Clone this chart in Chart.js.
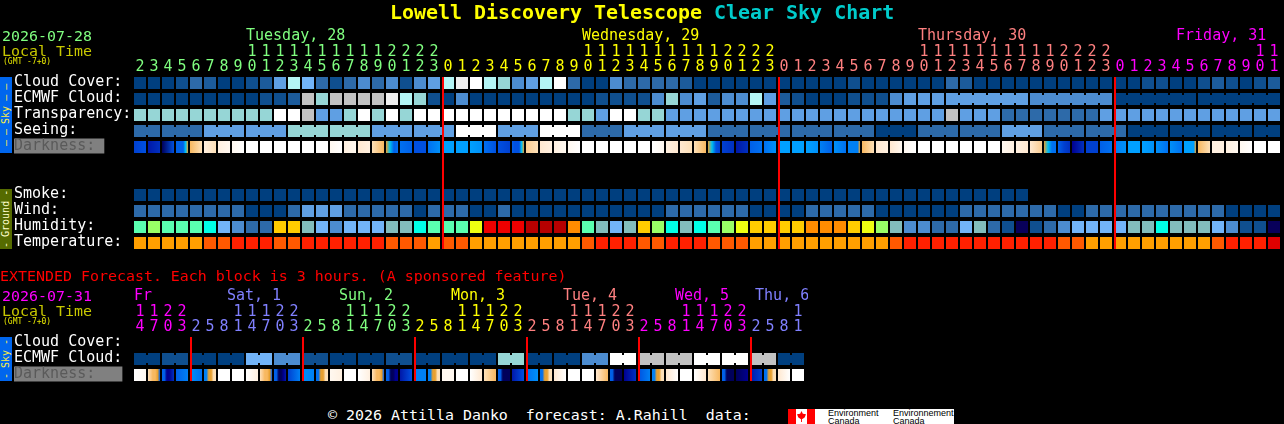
<!DOCTYPE html>
<html>
<head>
<meta charset="utf-8">
<title>Lowell Discovery Telescope Clear Sky Chart</title>
<script src="https://cdn.jsdelivr.net/npm/chart.js@4"></script>
<style>
html, body { margin: 0; padding: 0; background: #000; overflow: hidden; }
#page { position: relative; width: 1284px; height: 424px; background: #000; font-family: "DejaVu Sans Mono", monospace; font-size: 14.95px; }
#page canvas { position: absolute; left: 0; }
.t { position: absolute; white-space: pre; line-height: 16px; }
.side { position: absolute; left: 0; width: 12px; writing-mode: vertical-rl; transform: rotate(180deg); text-align: center; font-size: 10px; line-height: 12px; white-space: pre; word-spacing: -1px; }
</style>
</head>
<body>
<div id="page">
  <canvas id="main" width="1284" height="262" style="top:0"></canvas>
  <canvas id="ext" width="808" height="394" style="top:0"></canvas>

  <div class="t" style="left:390px;top:0;font-size:19.95px;line-height:24px;font-weight:bold;color:#ffff00">Lowell Discovery Telescope <span style="color:#00cccc">Clear Sky Chart</span></div>
  <div class="t" style="left:2px;top:28px;color:#80ff80">2026-07-28</div>
  <div class="t" style="left:2px;top:43px;color:#c8c800">Local Time</div>
  <div class="t" style="left:3px;top:54px;font-size:8px;color:#e8e800">(GMT -7+0)</div>
  <div class="t" style="left:0;top:268px;color:#ff0000">EXTENDED Forecast. Each block is 3 hours. (A sponsored feature)</div>
  <div class="t" style="left:2px;top:288px;color:#ff00ff">2026-07-31</div>
  <div class="t" style="left:2px;top:303px;color:#c8c800">Local Time</div>
  <div class="t" style="left:3px;top:314px;font-size:8px;color:#e8e800">(GMT -7+0)</div>

  <div class="side" style="top:77px;height:76px;background:#0066ee;color:#ffee44">— — Sky — —</div>
  <div class="side" style="top:189px;height:60px;background:#556b00;color:#ffffcc">- Ground -</div>
  <div class="side" style="top:337px;height:44px;background:#0066ee;color:#ffee44">- Sky -</div>

  <div class="t" style="left:328px;top:407px;color:#ffffff">© 2026 Attilla Danko  forecast: A.Rahill  data:</div>
  <div style="position:absolute;left:788px;top:409px;width:166px;height:15px;background:#fff;color:#000;font-size:9.5px;line-height:7.5px;overflow:hidden">
    <div style="position:absolute;left:0;top:0;width:8px;height:15px;background:#f00"></div>
    <div style="position:absolute;left:19px;top:0;width:8px;height:15px;background:#f00"></div>
    <div style="position:absolute;left:9px;top:2px;width:9px;height:11px;background:#f00;clip-path:polygon(50% 0,65% 25%,100% 30%,85% 60%,55% 75%,55% 100%,45% 100%,45% 75%,15% 60%,0 30%,35% 25%)"></div>
    <div class="t" style="left:40px;top:0;line-height:8px;font-size:9px;font-family:'Liberation Sans'">Environment<br>Canada</div>
    <div class="t" style="left:105px;top:0;line-height:8px;font-size:9px;font-family:'Liberation Sans'">Environnement<br>Canada</div>
  </div>
</div>

<script>
// top chart, one entry per hour block
const hours = [2,3,4,5,6,7,8,9,10,11,12,13,14,15,16,17,18,19,20,21,22,23,
  0,1,2,3,4,5,6,7,8,9,10,11,12,13,14,15,16,17,18,19,20,21,22,23,
  0,1,2,3,4,5,6,7,8,9,10,11,12,13,14,15,16,17,18,19,20,21,22,23,
  0,1,2,3,4,5,6,7,8,9,10,11];
const dayNames = ["Tuesday, 28","Wednesday, 29","Thursday, 30","Friday, 31"];
const dayCols = [8,32,56,74.43];
const dayEnds = [22,46,70,82];
const midnights = [22,46,70];

const cloudCover = [0,0,0,1,3,2,0,0,1,2,5,8,6,3,1,3,4,3,4,1,4,5,
  8,9,10,8,7,4,5,8,10,3,0,0,4,3,3,3,3,2,0,0,0,0,0,0,0,0,0,0,0,1,
  0,0,0,0,0,0,3,2,0,0,0,0,0,0,0,0,0,0,0,0,1,1,0,0,1,2,1,0,1,2];
const ecmwfCloud = [0,0,0,0,0,0,0,0,0,1,1,2,11,7,11,11,11,11,9,8,7,1,
  0,4,0,0,0,0,0,0,0,0,0,1,1,1,1,4,7,4,5,2,4,4,8,5,2,1,0,0,0,1,
  1,1,4,5,5,5,5,5,5,5,5,5,4,4,4,4,4,4,0,0,0,0,0,0,0,0,0,0,0,0];
const transparency = [7,7,7,7,7,7,7,7,7,7,10,10,11,5,5,7,10,7,10,7,10,10,
  10,10,10,10,10,10,10,10,10,7,7,5,10,10,7,7,5,5,5,5,5,5,5,5,5,5,5,5,5,5,
  5,5,5,5,5,5,11,5,5,5,3,3,3,3,3,3,3,5,5,5,5,5,5,5,5,5,5,5,5,5];
const seeing = [3,3,3,3,3,5,5,5,5,5,5,7,7,7,7,7,7,5,5,5,5,5,
  5,10,10,10,5,5,5,10,10,10,3,3,3,5,5,5,5,5,5,3,3,3,3,3,3,3,3,3,3,3,
  3,0,0,0,3,3,3,3,3,3,5,5,5,3,3,3,3,3,3,0,0,0,0,0,0,0,0,0,0,0];
const smoke = [0,0,0,0,0,0,0,0,0,0,0,0,0,0,0,0,0,0,0,0,0,0,
  0,0,0,0,0,0,0,0,0,0,0,0,0,0,0,0,0,0,0,0,0,0,0,0,0,0,0,0,0,0,
  0,0,0,0,0,0,0,0,0,0,0,0];
const wind = [3,3,3,3,3,3,3,3,0,0,0,3,5,5,5,3,3,3,3,3,0,3,
  3,3,0,0,3,0,0,0,0,0,0,0,0,0,0,0,3,3,3,3,3,3,0,0,0,0,3,3,3,3,
  3,0,0,0,0,0,0,3,3,3,3,3,3,3,0,0,3,3,3,3,3,3,3,3,3,3,0,0,0,0];
const humidity = [7,8,7,7,7,6,4,3,2,2,10,10,5,4,3,4,4,4,5,5,6,7,
  7,7,9,12,12,12,13,13,13,11,7,5,4,5,10,8,6,5,6,7,8,9,10,10,10,10,11,11,11,10,
  9,8,5,3,3,2,2,4,5,2,1,0,1,2,3,4,4,4,4,5,5,6,5,5,5,4,3,1,1,0];
const temperature = [0,0,0,0,0,1,1,2,2,2,1,1,2,2,2,2,2,2,1,1,1,0,
  1,1,0,0,0,0,0,0,0,0,1,2,2,2,1,1,2,2,2,1,1,1,0,0,0,0,0,0,0,0,
  0,0,1,2,2,2,2,2,2,2,2,2,2,2,1,1,0,0,0,0,0,0,0,0,0,1,2,2,2,3];
// light levels across each block, left to right
const darkness = [[4,5],[2,3],[0,5],[6,6,6,6,19,11],[12,14],[16,14],[16,17],[17,18],[18],[18],[18],[18],[18],[18],[17,18],[16,17],[15,16],[14,12],[11,19,6,7],[7,6],[5,5],[7,9],
  [10],[10],[10,9],[7,5],[5,4],[6,5,5,5,19,11],[13,14],[15,16],[16,17],[17,18],[18],[18],[18],[18],[18],[18,17],[16,15],[15,14],[14,12],[11,19,5,4],[4,3],[2,3],[6,7],[7,9],
  [10],[10],[10,9],[8,6],[9,7],[8,8,8,8,8,11],[12,14],[15,16],[15,17],[17,18],[18],[18],[18],[18],[18],[18],[17,16],[16,15],[15,13],[11,19,7,7],[6,4,3],[1,3],[4,4],[6,7],[8,9],[10],[10,9],[9,7],[9,7],[10,10,10,10,10,11],[12,14],[16,16],[16,17],[17,18],[18],[18]];

// extended chart, one entry per 3 hour block
const extHours = [14,17,20,23,2,5,8,11,14,17,20,23,2,5,8,11,14,17,20,23,2,5,8,11,
  14,17,20,23,2,5,8,11,14,17,20,23,2,5,8,11,14,17,20,23,2,5,8,11];
const extDayNames = ["Fr","Sat, 1","Sun, 2","Mon, 3","Tue, 4","Wed, 5","Thu, 6"];
const extDayCols = [0,6.64,14.64,22.64,30.64,38.64,44.36];
const extDayEnds = [4,12,20,28,36,44,48];
const extMidnights = [4,12,20,28,36,44];
const extCloud = [0,0,1,1,0,0,0,0,6,6,4,4,1,1,0,0,0,0,1,1,0,0,0,0,
  0,0,7,7,0,0,0,0,4,4,10,10,11,11,11,11,10,10,10,10,11,11,0,0];
const extDarkness = [[18,17],[14,13,12,12,11,6],[6,6,1,1,2,3],[6,8],[9,7],[8,8,11,11,14,14],[18],[18],[18,16],[14,13,12,12,11,6],[6,6,0,0,1,2],[4,8],
  [9,8],[7,7,11,11,14,14],[17,16],[18],[18,16],[14,13,12,12,11,6],[6,6,0,0,1,1],[2,5],[8],[8,8,11,11,14,14],[17],[18],
  [18,15],[14,12],[6,6,0,0,0,0],[2,5],[7,9],[7,7,11,11,14,14],[15,18],[18],[18],[15,12],[6,6,0,0,0,0],[1,3],
  [5,8],[8,8,11,11,14,14],[15,18],[18],[18,15],[14,12],[6,6,0,0,0,0],[0,1],[2,4],[7,7,11,11,14,14],[15,18],[18]];

// block groups that are joined by a narrow link
const seeingJoins = [[0,1],[2,4],[5,7],[8,10],[11,13],[14,16],[17,19],[20,22],[23,25],[26,28],[29,31],[32,34],[35,37],[38,40],
  [41,43],[44,46],[47,49],[50,52],[53,55],[56,58],[59,61],[62,64],[65,67],[68,70],[71,73],[74,76],[77,79],[80,81]];
const ecmwfJoins = [[58,63],[64,69],[70,75],[76,81]];
const extJoins = [[0,1],[2,3],[4,5],[6,7],[8,9],[10,11],[12,13],[14,15],[16,17],[18,19],[20,21],[22,23],
  [24,25],[26,27],[28,29],[30,31],[32,33],[34,35],[36,37],[38,39],[40,41],[42,43],[44,45],[46,47]];

const rowLabels = ["Cloud Cover:","ECMWF Cloud:","Transparency:","Seeing:","Darkness: "," ","  ","Smoke:","Wind:","Humidity:","Temperature:"];
const extRowLabels = ["Cloud Cover:","ECMWF Cloud:","Darkness:   "];

const skyColors = ["#003f7f","#0f4f8f","#1c5b9b","#2d6aa9","#4c8cd0","#5f9fe3","#72b4f8","#96d6d6","#b4f5f5","#efefef","#ffffff","#c2c2c2"];
const humidityColors = ["#08005a","#0f4f8f","#2d6aa9","#4c8cd0","#72b4f8","#82bdbd","#00ffe6","#5affb0","#99ff66","#eeff11","#ffcc00","#ff8c00","#ee0000","#b60000"];
const tempColors = ["#ff9f00","#ff5900","#ff2000","#e00000"];
const darkColors = ["#00005a","#000090","#0018a8","#0030c0","#0040d0","#0050e0","#0060e8","#0070f0","#0080f4","#0090f8","#00a0ff",
  "#e8a030","#f8b860","#fbcc90","#fde0b8","#ffe8d0","#fff0e0","#fff8f0","#ffffff","#00c0f0"];

const HALF = 6 / 14;   // a block is 12px out of 14px

function cellRow(label, values, colors) {
  return {
    label: label,
    data: values.map((v, i) => ({ x: [i - HALF, i + HALF], y: label })),
    backgroundColor: values.map(v => colors[v]),
    barPercentage: 0.75,
    categoryPercentage: 1,
    grouped: false,
    borderSkipped: false,
    order: 2
  };
}

function joinRow(label, joins, values, colors) {
  const links = [];
  joins.forEach(j => {
    for (let i = j[0]; i < j[1]; i++) links.push(i);
  });
  return {
    label: label + " links",
    data: links.map(i => ({ x: [i + HALF - 0.01, i + 1 - HALF + 0.01], y: label })),
    backgroundColor: links.map(i => colors[values[i]]),
    barPercentage: 0.5,
    categoryPercentage: 1,
    grouped: false,
    borderSkipped: false,
    order: 1
  };
}

function darkRow(label, values) {
  return {
    label: label,
    data: values.map((v, i) => ({ x: [i - HALF, i + HALF], y: label })),
    backgroundColor: function(c) {
      const stops = values[c.dataIndex];
      if (!stops) return "#000";
      const scale = c.chart.scales.x;
      const x0 = scale.getPixelForValue(c.dataIndex - HALF);
      const x1 = scale.getPixelForValue(c.dataIndex + HALF);
      if (stops.length == 1 || !isFinite(x0) || !isFinite(x1)) return darkColors[stops[0]];
      const g = c.chart.ctx.createLinearGradient(x0, 0, x1, 0);
      stops.forEach((s, n) => g.addColorStop(n / (stops.length - 1), darkColors[s]));
      return g;
    },
    barPercentage: 0.75,
    categoryPercentage: 1,
    grouped: false,
    borderSkipped: false
  };
}

function dayColor(col, ends, colors) {
  for (let i = 0; i < ends.length; i++) {
    if (col < ends[i]) return colors[i];
  }
  return colors[colors.length - 1];
}

// day names above the hours and the red midnight lines
const decorations = {
  id: "decorations",
  afterDatasetsDraw(chart, args, opts) {
    const x = chart.scales.x, c = chart.ctx, area = chart.chartArea;
    c.save();
    c.fillStyle = "#ff0000";
    opts.lines.forEach(m => {
      c.fillRect(Math.round(x.getPixelForValue(m - HALF)), opts.lineTop, 2, opts.lineBottom - opts.lineTop);
    });
    c.font = "15px 'DejaVu Sans Mono'";
    c.textBaseline = "middle";
    opts.names.forEach((n, i) => {
      c.fillStyle = opts.colors[i];
      c.fillText(n, x.getPixelForValue(opts.cols[i] - HALF), area.top - 39);
    });
    c.restore();
  }
};

function makeChart(id, rows, datasets, hourList, dayEndsList, colors, extra, axisTop, areaBottom, rightPad) {
  const canvas = document.getElementById(id);
  return new Chart(canvas, {
    type: "bar",
    plugins: [decorations],
    data: { labels: rows, datasets: datasets },
    options: {
      indexAxis: "y",
      responsive: false,
      animation: false,
      devicePixelRatio: 1,
      layout: { padding: { left: 14, right: rightPad, top: 0, bottom: canvas.height - areaBottom } },
      plugins: {
        legend: { display: false },
        tooltip: { enabled: false },
        decorations: extra
      },
      scales: {
        x: {
          type: "linear",
          position: "top",
          min: -HALF,
          max: hourList.length - 1 + HALF,
          afterFit(s) { s.height = axisTop; },
          grid: { display: false },
          border: { display: false },
          ticks: {
            stepSize: 1,
            autoSkip: false,
            includeBounds: false,
            maxRotation: 0,
            minRotation: 0,
            padding: -8,
            font: { family: "'DejaVu Sans Mono'", size: 15, lineHeight: 1 },
            color: c => dayColor(c.tick.value, dayEndsList, colors),
            callback: v => {
              const h = hourList[v];
              return [h >= 10 ? String(Math.floor(h / 10)) : " ", String(h % 10)];
            }
          }
        },
        y: {
          type: "category",
          offset: true,
          afterFit(s) { s.width = 120; },
          grid: { display: false },
          border: { display: false },
          ticks: {
            autoSkip: false,
            crossAlign: "far",
            padding: 0,
            labelOffset: -1,
            font: { family: "'DejaVu Sans Mono'", size: 15, lineHeight: 1 },
            color: c => String(rows[c.index]).startsWith("Darkness") ? "#5a5a5a" : "#ffffff",
            showLabelBackdrop: c => String(rows[c.index]).startsWith("Darkness"),
            backdropColor: "#808080",
            backdropPadding: 0
          }
        }
      }
    }
  });
}

const dayColors = ["#80ff80","#ffff00","#ff8080","#ff00ff"];
const extDayColors = ["#ff00ff","#8080ff","#80ff80","#ffff00","#ff8080","#ff00ff","#8080ff"];

makeChart("main", rowLabels, [
  cellRow(rowLabels[0], cloudCover, skyColors),
  cellRow(rowLabels[1], ecmwfCloud, skyColors),
  joinRow(rowLabels[1], ecmwfJoins, ecmwfCloud, skyColors),
  cellRow(rowLabels[2], transparency, skyColors),
  cellRow(rowLabels[3], seeing, skyColors),
  joinRow(rowLabels[3], seeingJoins, seeing, skyColors),
  darkRow(rowLabels[4], darkness),
  cellRow(rowLabels[7], smoke, skyColors),
  cellRow(rowLabels[8], wind, skyColors),
  cellRow(rowLabels[9], humidity, humidityColors),
  cellRow(rowLabels[10], temperature, tempColors)
], hours, dayEnds, dayColors,
  { lines: midnights, lineTop: 77, lineBottom: 249, names: dayNames, cols: dayCols, colors: dayColors },
  75, 251, 4);

makeChart("ext", extRowLabels, [
  cellRow(extRowLabels[1], extCloud, skyColors),
  joinRow(extRowLabels[1], extJoins, extCloud, skyColors),
  darkRow(extRowLabels[2], extDarkness)
], extHours, extDayEnds, extDayColors,
  { lines: extMidnights, lineTop: 337, lineBottom: 381, names: extDayNames, cols: extDayCols, colors: extDayColors },
  335, 383, 4);
</script>
</body>
</html>
